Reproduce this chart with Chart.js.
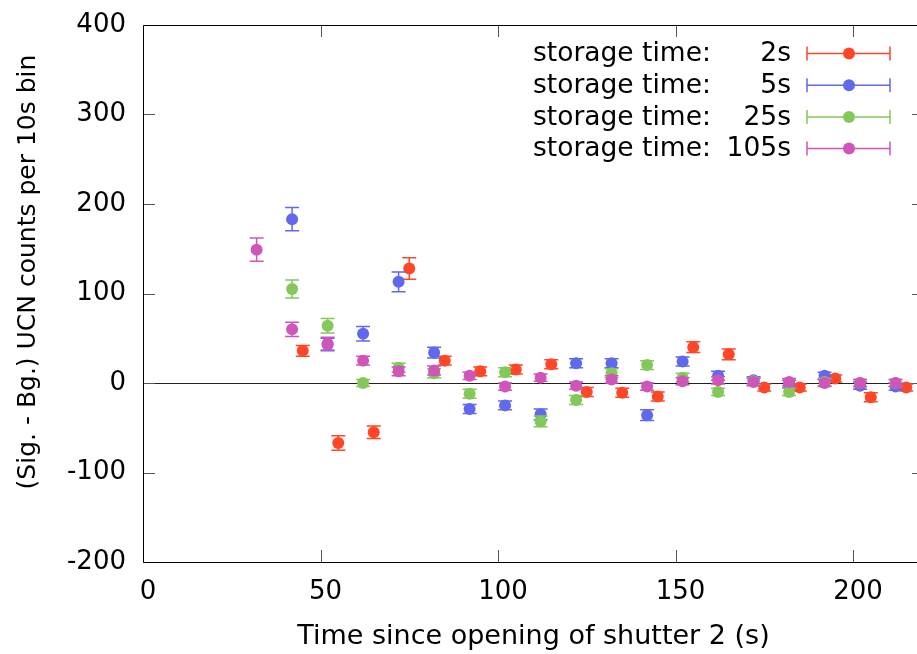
<!DOCTYPE html>
<html>
<head>
<meta charset="utf-8">
<script src="https://cdn.jsdelivr.net/npm/chart.js@4.4.1/dist/chart.umd.min.js"></script>
<style>
  html, body { margin: 0; padding: 0; background: #fff; overflow: hidden; }
  #wrap { width: 935px; height: 654px; }
</style>
</head>
<body>
<div id="wrap"><canvas id="ucn" width="935" height="654"></canvas></div>
<script>
// ==================== DATA ====================
// bin centres (s) for each storage time
const xShort  = [45, 55, 65, 75, 85, 95, 105, 115, 125, 135, 145, 155, 165, 175, 185, 195, 205, 215];
const xLong   = [42, 52, 62, 72, 82, 92, 102, 112, 122, 132, 142, 152, 162, 172, 182, 192, 202, 212];
const xLonger = [32, 42, 52, 62, 72, 82, 92, 102, 112, 122, 132, 142, 152, 162, 172, 182, 192, 202, 212];

// signal minus background counts per 10 s bin, with errors
const counts2s   = [36, -67, -55, 128, 25, 13, 15, 21, -10, -11, -15, 40, 32, -5, -5, 5, -16, -5];
const errors2s   = [6, 8, 7, 12, 5, 5, 5, 5, 5, 5, 5, 6, 6, 4, 4, 4, 5, 4];
const counts5s   = [183, 43, 55, 113, 34, -29, -25, -35, 22, 22, -36, 24, 8, 3, -1, 8, -3, -4];
const errors5s   = [13, 7, 8, 11, 6, 5, 5, 6, 5, 5, 6, 5, 5, 4, 4, 4, 4, 4];
const counts25s  = [105, 64, 0, 17, 11, -12, 12, -43, -19, 11, 20, 6, -10, 2, -10, 1, 0, 0];
const errors25s  = [10, 8, 4, 5, 5, 5, 5, 6, 5, 5, 5, 5, 4, 4, 4, 4, 4, 4];
const counts105s = [149, 60, 44, 25, 13, 14, 8, -4, 6, -3, 4, -4, 2, 3, 1, 1, 0, 0, 0];
const errors105s = [13, 8, 7, 5, 5, 5, 4, 4, 4, 4, 4, 4, 4, 4, 4, 4, 4, 4, 4];

const legendPrefix = 'storage time:';
const legendLabels = ['2s', '5s', '25s', '105s'];
const seriesColors = ['#ff4626', '#6068ec', '#84c85a', '#d055b8'];

const xTicks = [0, 50, 100, 150, 200];
const yTicks = [-200, -100, 0, 100, 200, 300, 400];

const xTitle = 'Time since opening of shutter 2 (s)';
const yTitle = '(Sig. - Bg.) UCN counts per 10s bin';

const FONT = 'DejaVu Sans';
const FONT_SIZE = 26;

function toPoints(xs, ys, es) {
    return xs.map((x, i) => ({ x: x, y: ys[i], err: es[i] }));
}

// ==================== PLUGINS ====================
// vertical error bars, drawn just under each dataset's markers
const errorBars = {
    id: 'errorBars',
    beforeDatasetDraw(chart, args) {
        const { ctx, scales: { x, y } } = chart;
        const ds = chart.data.datasets[args.index];
        const cap = 7;
        ctx.save();
        ctx.strokeStyle = ds.backgroundColor;
        ctx.lineWidth = 1.5;
        ds.data.forEach(p => {
            const px = x.getPixelForValue(p.x);
            const y0 = y.getPixelForValue(p.y - p.err);
            const y1 = y.getPixelForValue(p.y + p.err);
            ctx.beginPath();
            ctx.moveTo(px, y0); ctx.lineTo(px, y1);
            ctx.moveTo(px - cap, y0); ctx.lineTo(px + cap, y0);
            ctx.moveTo(px - cap, y1); ctx.lineTo(px + cap, y1);
            ctx.stroke();
        });
        ctx.restore();
    }
};

// frame, inward ticks on all four sides, the zero line and the y title
const frame = {
    id: 'frame',
    beforeDatasetsDraw(chart) {
        const { ctx, chartArea: a, scales: { x, y } } = chart;
        const tl = 12;
        ctx.save();
        ctx.strokeStyle = '#222';
        ctx.lineWidth = 1;
        ctx.beginPath();
        const y0 = Math.round(y.getPixelForValue(0)) + 0.5;
        ctx.moveTo(a.left, y0); ctx.lineTo(a.right, y0);
        ctx.stroke();

        ctx.strokeStyle = '#555';
        ctx.beginPath();
        xTicks.forEach(v => {
            const px = Math.round(x.getPixelForValue(v)) + 0.5;
            ctx.moveTo(px, a.bottom); ctx.lineTo(px, a.bottom - tl);
            ctx.moveTo(px, a.top); ctx.lineTo(px, a.top + tl);
        });
        yTicks.forEach(v => {
            const py = Math.round(y.getPixelForValue(v)) + 0.5;
            ctx.moveTo(a.left, py); ctx.lineTo(a.left + tl, py);
            ctx.moveTo(a.right, py); ctx.lineTo(a.right - tl, py);
        });
        ctx.stroke();

        ctx.strokeStyle = '#000';
        ctx.beginPath();
        ctx.rect(Math.round(a.left) + 0.5, Math.round(a.top) + 0.5,
                 Math.round(a.right - a.left), Math.round(a.bottom - a.top));
        ctx.stroke();

        // y axis title, sits a little above the middle of the frame
        ctx.translate(28, 272);
        ctx.rotate(-Math.PI / 2);
        ctx.font = '25px "' + FONT + '"';
        ctx.fillStyle = '#000';
        ctx.textAlign = 'center';
        ctx.textBaseline = 'middle';
        ctx.fillText(yTitle, 0, 0);
        ctx.restore();
    }
};

// gnuplot-style key in the upper right corner
const key = {
    id: 'key',
    afterDraw(chart) {
        const { ctx } = chart;
        ctx.save();
        ctx.font = '26.5px "' + FONT + '"';
        ctx.textBaseline = 'middle';
        legendLabels.forEach((lab, i) => {
            const ry = 53.5 + i * 31.7;
            const col = seriesColors[i];
            ctx.fillStyle = '#000';
            ctx.textAlign = 'left';
            ctx.fillText(legendPrefix, 533, ry + 1);
            ctx.textAlign = 'right';
            ctx.fillText(lab, 791, ry + 1);

            ctx.strokeStyle = col;
            ctx.lineWidth = 1.5;
            ctx.beginPath();
            ctx.moveTo(807, ry); ctx.lineTo(890, ry);
            ctx.moveTo(807, ry - 7); ctx.lineTo(807, ry + 7);
            ctx.moveTo(890, ry - 7); ctx.lineTo(890, ry + 7);
            ctx.stroke();
            ctx.fillStyle = col;
            ctx.beginPath();
            ctx.arc(849, ry, 6, 0, Math.PI * 2);
            ctx.fill();
        });
        ctx.restore();
    }
};

// ==================== CHART ====================
function makeSet(i, pts) {
    return {
        label: legendPrefix + ' ' + legendLabels[i],
        data: pts,
        backgroundColor: seriesColors[i],
        borderWidth: 0,
        pointRadius: 6,
        pointHoverRadius: 6,
        showLine: false,
        order: 4 - i
    };
}

function noPad(s) {
    s.paddingTop = 0; s.paddingBottom = 0;
    s.paddingLeft = 0; s.paddingRight = 0;
}

new Chart(document.getElementById('ucn').getContext('2d'), {
    type: 'scatter',
    data: {
        datasets: [
            makeSet(0, toPoints(xShort, counts2s, errors2s)),
            makeSet(1, toPoints(xLong, counts5s, errors5s)),
            makeSet(2, toPoints(xLong, counts25s, errors25s)),
            makeSet(3, toPoints(xLonger, counts105s, errors105s))
        ]
    },
    options: {
        responsive: false,
        animation: false,
        layout: { padding: { top: 25, right: 11, left: 0, bottom: 0 } },
        plugins: { legend: { display: false }, tooltip: { enabled: false } },
        scales: {
            x: {
                type: 'linear',
                min: 0,
                max: 220,
                afterBuildTicks: s => { s.ticks = xTicks.map(v => ({ value: v })); },
                ticks: {
                    color: '#000', font: { family: FONT, size: FONT_SIZE },
                    padding: 15, labelOffset: 5, maxRotation: 0
                },
                grid: { display: false, drawTicks: false },
                border: { display: false },
                title: {
                    display: true,
                    text: xTitle,
                    color: '#000',
                    font: { family: FONT, size: 27 },
                    padding: { top: 0, bottom: 1 }
                },
                afterFit: s => { s.height = 92; noPad(s); }
            },
            y: {
                min: -200,
                max: 400,
                afterBuildTicks: s => { s.ticks = yTicks.map(v => ({ value: v })); },
                ticks: { color: '#000', font: { family: FONT, size: FONT_SIZE }, padding: 17 },
                grid: { display: false, drawTicks: false },
                border: { display: false },
                afterFit: s => { s.width = 143; noPad(s); }
            }
        }
    },
    plugins: [errorBars, frame, key]
});
</script>
</body>
</html>
